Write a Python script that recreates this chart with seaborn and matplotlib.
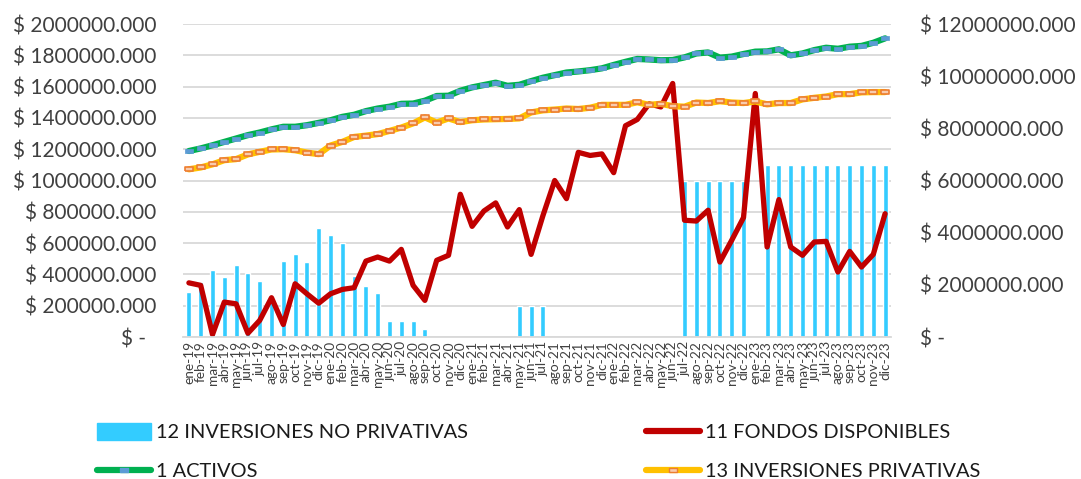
import numpy as np
import pandas as pd
import seaborn as sns
import matplotlib.pyplot as plt
from matplotlib.lines import Line2D
from matplotlib.patches import Patch

meses = ["ene", "feb", "mar", "abr", "may", "jun", "jul", "ago", "sep", "oct", "nov", "dic"]
months = [m + "-" + str(y) for y in range(19, 24) for m in meses]

# 12 INVERSIONES NO PRIVATIVAS (left axis)
no_privativas = [290000, 351000, 430000, 381000, 460000, 408000, 355000, 250000, 485000, 528000,
                 477000, 699000, 650000, 598000, 390000, 323000, 278000, 100000, 100000, 100000,
                 50000, 0, 0, 0, 0, 0, 0, 0, 200000, 200000,
                 200000, 0, 0, 0, 0, 0, 0, 0, 0, 0,
                 0, 0, 1000000, 1000000, 1000000, 1000000, 1000000, 1000000, 0, 1100000,
                 1100000, 1100000, 1100000, 1100000, 1100000, 1100000, 1100000, 1100000, 1100000, 1100000]

# 11 FONDOS DISPONIBLES (left axis)
fondos = [346000, 330000, 16000, 223000, 212000, 24000, 106000, 251000, 80000, 340000,
          276000, 216000, 276000, 304000, 315000, 485000, 511000, 485000, 560000, 330000,
          234000, 490000, 522000, 912000, 707000, 805000, 857000, 703000, 814000, 528000,
          775000, 1000000, 884000, 1180000, 1160000, 1170000, 1050000, 1350000, 1390000, 1490000,
          1470000, 1620000, 746000, 741000, 810000, 479000, 618000, 763000, 1556000, 575000,
          878000, 575000, 522000, 607000, 611000, 415000, 547000, 447000, 528000, 788000]

# 1 ACTIVOS (right axis)
activos = [7130000, 7230000, 7350000, 7480000, 7610000, 7740000, 7840000, 7960000, 8060000, 8060000,
           8120000, 8210000, 8310000, 8440000, 8520000, 8660000, 8760000, 8830000, 8940000, 8950000,
           9060000, 9240000, 9250000, 9440000, 9570000, 9660000, 9750000, 9630000, 9670000, 9810000,
           9940000, 10040000, 10140000, 10180000, 10230000, 10300000, 10430000, 10550000, 10660000, 10640000,
           10610000, 10620000, 10720000, 10870000, 10910000, 10710000, 10750000, 10850000, 10940000, 10950000,
           11030000, 10800000, 10870000, 11000000, 11090000, 11050000, 11130000, 11160000, 11280000, 11450000]

# 13 INVERSIONES PRIVATIVAS (right axis)
privativas = [6430000, 6500000, 6620000, 6780000, 6820000, 7000000, 7100000, 7190000, 7200000, 7160000,
              7070000, 7010000, 7340000, 7480000, 7670000, 7720000, 7780000, 7900000, 8030000, 8190000,
              8420000, 8220000, 8380000, 8240000, 8310000, 8340000, 8350000, 8360000, 8380000, 8610000,
              8690000, 8720000, 8760000, 8740000, 8790000, 8900000, 8900000, 8900000, 9000000, 8900000,
              8940000, 8850000, 8830000, 8990000, 8970000, 9040000, 8990000, 8970000, 9030000, 8920000,
              8970000, 8970000, 9110000, 9170000, 9220000, 9310000, 9310000, 9380000, 9390000, 9390000]

left_ticks = [0, 200000, 400000, 600000, 800000, 1000000, 1200000, 1400000, 1600000, 1800000, 2000000]
right_ticks = [0, 2000000, 4000000, 6000000, 8000000, 10000000, 12000000]

sns.set_style("white")
plt.rcParams['font.family'] = ['Lato', 'DejaVu Sans']

df = pd.DataFrame({"mes": months, "no_priv": no_privativas, "fondos": fondos,
                   "activos": activos, "priv": privativas})
df["i"] = np.arange(len(df))

W, H = 1081, 479
fig = plt.figure(figsize=(W / 100, H / 100), dpi=100)
ax = fig.add_axes([183 / W, 1 - 337 / H, 708 / W, 313 / H])

bar_c = "#33CCFF"
red_c = "#C00000"
green_c = "#00B050"
yellow_c = "#FFC000"
grid_c = "#D9D9D9"
txt_c = "#404040"

sns.barplot(data=df, x="mes", y="no_priv", ax=ax, color=bar_c, saturation=1, width=0.42)
sns.lineplot(data=df, x="i", y="fondos", ax=ax, color=red_c, lw=3.8)

ax.set_xlim(-0.5, 59.5)
ax.set_ylim(0, 2000000)
ax.set_xlabel("")
ax.set_ylabel("")
ax.set_axisbelow(True)
ax.yaxis.grid(True, color=grid_c, lw=1.3)
for s in ["top", "left", "right"]:
    ax.spines[s].set_visible(False)
ax.spines["bottom"].set_color(grid_c)
ax.spines["bottom"].set_linewidth(1.3)

ax.set_xticks(np.arange(len(months)))
ax.set_xticklabels(months, rotation=90, fontsize=9.8, color=txt_c)
ax.set_xticks(np.arange(-0.5, 60, 1), minor=True)
ax.tick_params(axis="x", which="major", length=0, pad=3)
ax.tick_params(axis="x", which="minor", length=4, color=grid_c, width=1.2)

ax.set_yticks(left_ticks)
ax.set_yticklabels(["$ -  " if v == 0 else f"$ {v}.000" for v in left_ticks], fontsize=15, color=txt_c)
ax.tick_params(axis="y", length=0, pad=19)

ax2 = ax.twinx()
rect = [(-1, -0.45), (1, -0.45), (1, 0.45), (-1, 0.45), (-1, -0.45)]
sns.lineplot(data=df, x="i", y="activos", ax=ax2, color=green_c, lw=4.5,
             marker=rect, markersize=6, markerfacecolor="#5B9BD5",
             markeredgecolor="#5B9BD5", markeredgewidth=0.5)
sns.lineplot(data=df, x="i", y="priv", ax=ax2, color=yellow_c, lw=4.5,
             marker=rect, markersize=6, markerfacecolor="#F8CBAD",
             markeredgecolor="#ED7D31", markeredgewidth=1.2)
ax2.set_ylim(0, 12000000)
ax2.set_xlim(-0.5, 59.5)
ax2.set_ylabel("")
ax2.set_yticks(right_ticks)
ax2.set_yticklabels(["$ -" if v == 0 else f"$ {v}.000" for v in right_ticks], fontsize=15, color=txt_c)
ax2.tick_params(axis="y", length=0, pad=21)
for s in ax2.spines.values():
    s.set_visible(False)

handles = [
    Patch(color=bar_c),
    Line2D([], [], color=green_c, lw=4.5, marker=rect, markersize=6,
           markerfacecolor="#5B9BD5", markeredgecolor="#5B9BD5"),
    Line2D([], [], color=red_c, lw=4.5),
    Line2D([], [], color=yellow_c, lw=4.5, marker=rect, markersize=6,
           markerfacecolor="#F8CBAD", markeredgecolor="#ED7D31"),
]
labels = ["12 INVERSIONES NO PRIVATIVAS", "1 ACTIVOS", "11 FONDOS DISPONIBLES", "13 INVERSIONES PRIVATIVAS"]
fig.legend(handles, labels, loc="upper left", bbox_to_anchor=(97 / W, 1 - 423 / H),
           ncol=2, frameon=False, fontsize=14.4, handlelength=2.7, handleheight=0.9,
           handletextpad=0.25, columnspacing=8.9, labelspacing=1.05,
           borderpad=0, borderaxespad=0, labelcolor="#1a1a1a")

fig.savefig("out.png", dpi=100)
